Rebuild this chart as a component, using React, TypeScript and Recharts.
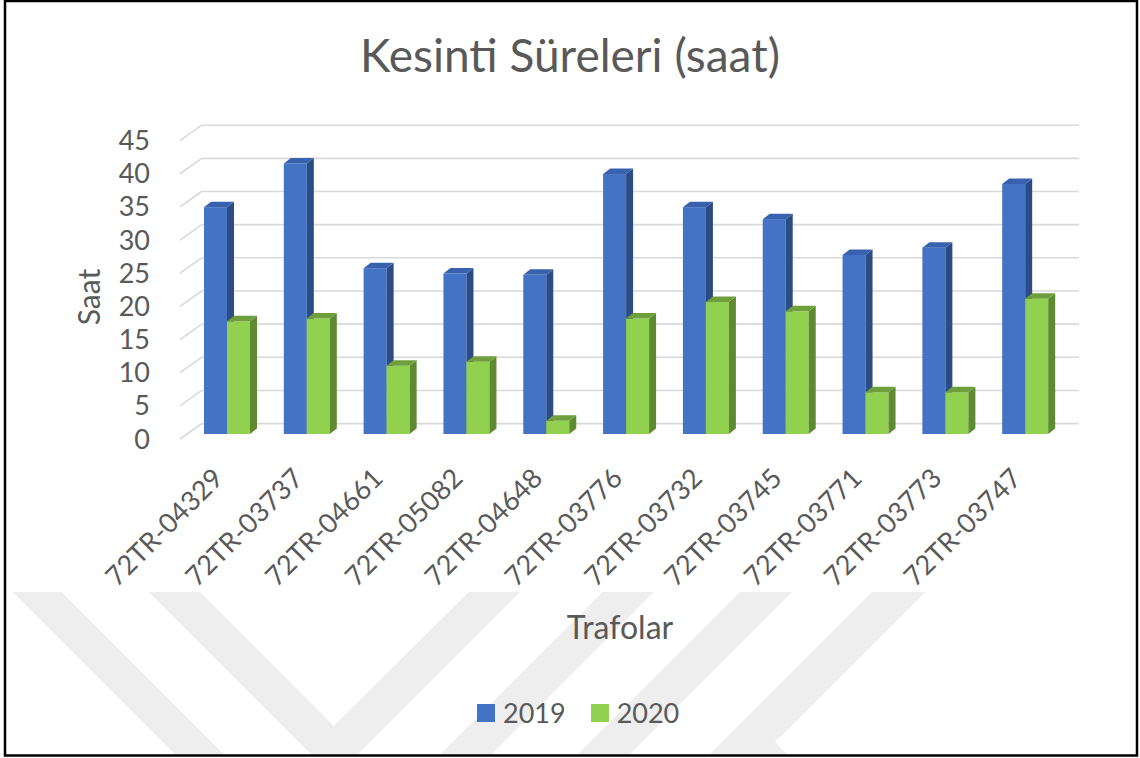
import React from 'react';
import { BarChart, Bar, XAxis, YAxis, CartesianGrid, Legend } from 'recharts';

const categories = ['72TR-04329', '72TR-03737', '72TR-04661', '72TR-05082', '72TR-04648', '72TR-03776', '72TR-03732', '72TR-03745', '72TR-03771', '72TR-03773', '72TR-03747'];
const values2019 = [34.2, 40.8, 25.0, 24.2, 24.0, 39.2, 34.2, 32.4, 27.0, 28.1, 37.7];
const values2020 = [17.0, 17.4, 10.3, 10.9, 2.0, 17.4, 19.9, 18.5, 6.3, 6.3, 20.4];
const yTicks = [0, 5, 10, 15, 20, 25, 30, 35, 40, 45];
const seriesNames = ['2019', '2020'];

const data = categories.map((c, i) => ({ name: c, '2019': values2019[i], '2020': values2020[i] }));

const FONT = 'Lato, "Open Sans", sans-serif';
const TXT = '#595959';

const COLORS: Record<string, { front: string; top: string; side: string }> = {
  '2019': { front: '#4472C4', top: '#3862AD', side: '#2C4C85' },
  '2020': { front: '#92D050', top: '#6F9F3C', side: '#5E8A31' },
};

const DX = 7;
const DY = 5.5;

const make3D = (key: string) => (props: any) => {
  const { x, y, width, height } = props;
  if (width == null || height == null) return null;
  const c = COLORS[key];
  const r = x + width;
  const b = y + height;
  return (
    <g>
      <rect x={x} y={y} width={width} height={height} fill={c.front} />
      <polygon points={`${r},${y} ${r + DX},${y - DY} ${r + DX},${b - DY} ${r},${b}`} fill={c.side} />
      <polygon points={`${x},${y} ${x + DX},${y - DY} ${r + DX},${y - DY} ${r},${y}`} fill={c.top} />
    </g>
  );
};

const gridLine = (props: any) => {
  const { x1, x2, y1, index } = props;
  const by = y1 - 10.4;
  return (
    <g key={`g-${index}-${y1}`}>
      <line x1={x1 - 7} y1={y1 + 5} x2={x1 + 14.7} y2={by} stroke="#d9d9d9" strokeWidth={1.6} />
      <line x1={x1 + 14.7} y1={by} x2={x2 + 14} y2={by} stroke="#d9d9d9" strokeWidth={1.6} />
    </g>
  );
};

const YTick = (props: any) => {
  const { y, payload } = props;
  return (
    <text x={150} y={y + 4} textAnchor="end" dominantBaseline="central" fontSize={27} fontFamily={FONT} fill={TXT}>
      {payload.value}
    </text>
  );
};

const XTick = (props: any) => {
  const { x, payload } = props;
  const ax = x - 2;
  const ay = 480;
  return (
    <text x={ax} y={ay} transform={`rotate(-45 ${ax} ${ay})`} textAnchor="end" fontSize={27} fontFamily={FONT} fill={TXT}>
      {payload.value}
    </text>
  );
};

const LegendContent = (props: any) => {
  const items = props.payload || [];
  return (
    <div style={{ display: 'flex', alignItems: 'center', fontFamily: FONT, fontSize: 27, color: TXT, lineHeight: '30px' }}>
      {items.map((it: any, i: number) => (
        <div key={i} style={{ display: 'flex', alignItems: 'center', marginRight: i === 0 ? 25 : 0 }}>
          <div style={{ width: 18, height: 18, background: COLORS[it.value].front, marginRight: 8 }} />
          <span>{it.value}</span>
        </div>
      ))}
    </div>
  );
};

const watermark = [
  '12.7,592 61.7,592 224.7,755 175.7,755',
  '149,592 200,592 333.7,725.7 468.7,592 520,592 357,755 312,755',
  '603,592 654,592 491,755 440,755',
  '740,592 792,592 629,755 577,755',
  '872,592 925,592 775,742 788,755 709,755',
];

export default function App() {
  return (
    <div style={{ position: 'absolute', left: 0, top: 0, width: 1140, height: 758, background: '#fff', overflow: 'hidden' }}>
      <svg width={1140} height={758} style={{ position: 'absolute', left: 0, top: 0 }}>
        {watermark.map((p, i) => (
          <polygon key={i} points={p} fill="#eeeeee" />
        ))}
        <rect x={5} y={1} width={1132} height={754.5} fill="none" stroke="#000" strokeWidth={2.5} />
      </svg>
      <div
        style={{
          position: 'absolute', left: 0, top: 30, width: 1140, textAlign: 'center',
          fontFamily: FONT, fontSize: 46, color: TXT, lineHeight: '50px',
        }}
      >
        Kesinti Süreleri (saat)
      </div>
      <div style={{ position: 'absolute', left: 0, top: 0 }}>
        <BarChart
          width={1140}
          height={758}
          data={data}
          margin={{ top: 135.6, right: 75, bottom: 294, left: 127 }}
          barGap={0}
          barSize={23}
        >
          <CartesianGrid vertical={false} horizontal={gridLine} />
          <XAxis
            dataKey="name"
            height={30}
            axisLine={false}
            tickLine={false}
            interval={0}
            tick={<XTick />}
            label={(p: any) => (
              <text x={620} y={639} textAnchor="middle" fontSize={32} fontFamily={FONT} fill={TXT}>Trafolar</text>
            )}
          />
          <YAxis
            width={60}
            domain={[0, 45]}
            ticks={yTicks}
            axisLine={false}
            tickLine={false}
            tick={<YTick />}
            label={(p: any) => (
              <text x={88} y={297} transform="rotate(-90 88 297)" textAnchor="middle" dominantBaseline="central" fontSize={30} fontFamily={FONT} fill={TXT}>Saat</text>
            )}
          />
          <Legend
            layout="horizontal"
            verticalAlign="middle"
            align="center"
            content={<LegendContent />}
            wrapperStyle={{ position: 'absolute', left: 477, top: 698, width: 'auto' }}
          />
          <Bar dataKey={seriesNames[0]} fill={COLORS['2019'].front} shape={make3D('2019')} isAnimationActive={false} />
          <Bar dataKey={seriesNames[1]} fill={COLORS['2020'].front} shape={make3D('2020')} isAnimationActive={false} />
        </BarChart>
      </div>
    </div>
  );
}
